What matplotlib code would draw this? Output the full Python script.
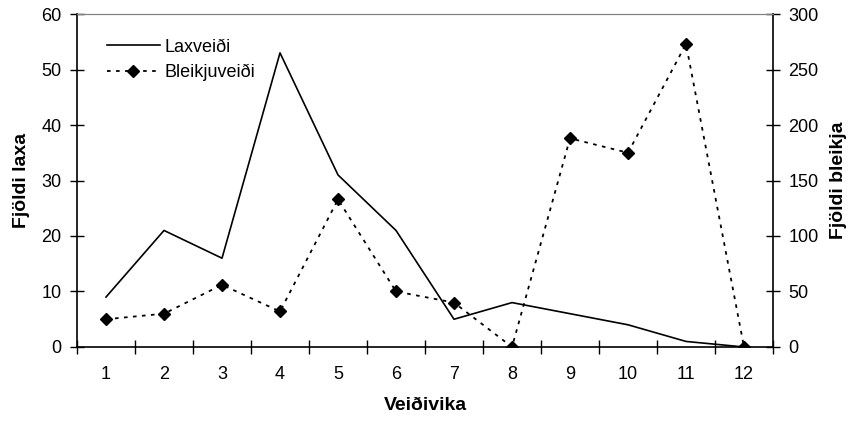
import matplotlib.pyplot as plt
import numpy as np

plt.rcParams['font.family'] = ['Liberation Sans', 'DejaVu Sans']

weeks = np.arange(1, 13)
lax = [9, 21, 16, 53, 31, 21, 5, 8, 6, 4, 1, 0]
bleikja = [25, 30, 56, 32, 133, 50, 40, 0, 188, 175, 273, 0]

fig = plt.figure(figsize=(8.49, 4.21), dpi=100)
ax = fig.add_axes([0.0907, 0.1758, 0.8198, 0.7909])
ax2 = ax.twinx()

l1, = ax.plot(weeks, lax, color='black', lw=1.2, label='Laxveiði')
l2, = ax2.plot(weeks, bleikja, color='black', lw=1.3, ls=(0, (2, 3)),
               marker='D', ms=6, label='Bleikjuveiði')

ax.set_xlim(0.5, 12.5)
ax.set_ylim(0, 60)
ax2.set_ylim(0, 300)
ax.set_yticks(range(0, 61, 10))
ax2.set_yticks(range(0, 301, 50))
ax.set_xticks(weeks)
ax.set_xticks(np.arange(0.5, 13, 1), minor=True)
ax.tick_params(axis='x', which='major', length=0, labelsize=13, pad=14)
ax.tick_params(axis='x', which='minor', length=10, direction='inout', width=1)
ax.tick_params(axis='y', length=10, direction='inout', labelsize=13, width=1, pad=6)
ax2.tick_params(axis='y', length=10, direction='inout', labelsize=13, width=1, pad=6)

for a in (ax, ax2):
    a.spines['top'].set_color('#808080')
    a.spines['left'].set_linewidth(1.2)
    a.spines['right'].set_linewidth(1.2)
    a.spines['bottom'].set_linewidth(1.2)
ax.spines['right'].set_visible(False)
ax2.spines['left'].set_visible(False)
ax2.spines['bottom'].set_visible(False)

ax.set_xlabel('Veiðivika', fontsize=14, fontweight='bold', labelpad=10)
ax.set_ylabel('Fjöldi laxa', fontsize=14, fontweight='bold', labelpad=8)
ax2.set_ylabel('Fjöldi bleikja', fontsize=14, fontweight='bold', labelpad=8)

ax.legend(handles=[l1, l2], loc='upper left', bbox_to_anchor=(0.02, 0.975),
          frameon=False, fontsize=13, handlelength=2.9, handletextpad=0.25,
          labelspacing=0.45)

fig.savefig('out.png', dpi=100)
